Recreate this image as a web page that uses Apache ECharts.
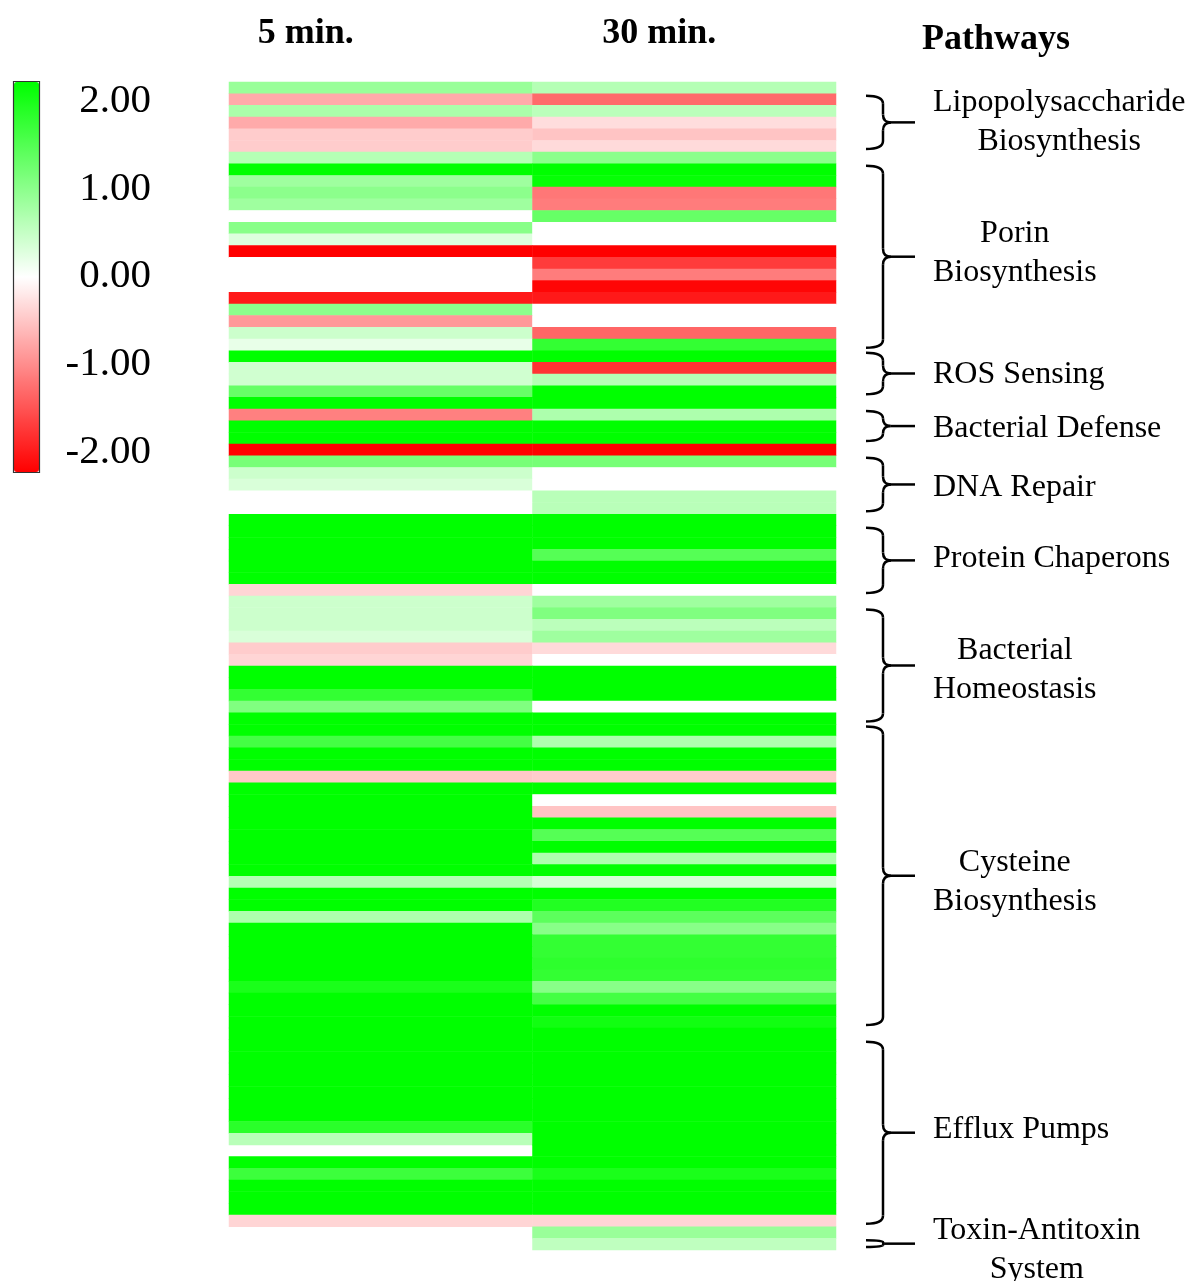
<!DOCTYPE html>
<html>
<head>
<meta charset="utf-8">
<script src="https://cdn.jsdelivr.net/npm/echarts@6/dist/echarts.min.js"></script>
<style>
  html, body { margin: 0; padding: 0; background: #fff; }
  #chart { width: 1194px; height: 1281px; }
</style>
</head>
<body>
<div id="chart"></div>
<script>
// Fold-change (log scale) per gene, top row first
const timePoints = ['5 min.', '30 min.'];

const min5 = [
  0.8, -0.67, 0.67, -0.67, -0.4, -0.4, 0.58, 2, 0.75, 0.9,
  0.75, 0, 0.93, 0.27, -2, 0, 0, 0, -1.8, 0.9,
  -0.8, 0.4, 0.18, 2, 0.37, 0.37, 1.2, 2, -1.0, 2,
  2, -2, 1.07, 0.4, 0.3, 0, 0, 2, 2, 2,
  2, 2, 2, -0.33, 0.4, 0.4, 0.4, 0.3, -0.4, -0.33,
  2, 2, 1.6, 1.0, 2, 2, 1.47, 2, 2, -0.43,
  2, 2, 2, 2, 2, 2, 2, 2, 0.58, 2,
  2, 0.64, 2, 2, 2, 2, 2, 1.8, 2, 2,
  2, 2, 2, 2, 2, 2, 2, 2, 2, 1.67,
  0.55, '-', 2, 1.53, 2, 2, 2, -0.33, '-', '-'
];

const min30 = [
  0.58, -1.16, 0.53, -0.27, -0.46, -0.29, 0.9, 2, 1.95, -1.07,
  -1.03, 1.2, 0, 0, -2, -1.54, -1.03, -1.95, -1.8, 0,
  0, -1.2, 1.6, 2, -1.6, 0.58, 2, 2, 0.64, 2,
  2, -2, 1.07, 0, 0, 0.55, 0.55, 2, 2, 2,
  1.33, 2, 2, 0, 0.75, 1.0, 0.53, 0.75, -0.29, 0,
  2, 2, 2, 0, 2, 2, 0.64, 2, 2, -0.4,
  2, 0, -0.46, 2, 1.33, 2, 0.64, 2, 0.33, 2,
  1.73, 1.28, 0.93, 1.6, 1.6, 1.65, 1.6, 0.93, 1.47, 2,
  1.87, 2, 2, 2, 2, 2, 2, 2, 2, 2,
  2, 2, 2, 1.8, 2, 2, 2, -0.33, 0.8, 0.5
];

const scaleTicks = [-2, -1, 0, 1, 2];

const pathwayNames = [
  'Lipopolysaccharide\nBiosynthesis',
  'Porin\nBiosynthesis',
  'ROS Sensing',
  'Bacterial Defense',
  'DNA Repair',
  'Protein Chaperons',
  'Bacterial\nHomeostasis',
  'Cysteine\nBiosynthesis',
  'Efflux Pumps',
  'Toxin-Antitoxin\nSystem'
];
const pathwayStart = [1, 7, 23, 28, 32, 38, 45, 55, 82, 99];
const pathwayEnd   = [5, 22, 26, 30, 36, 43, 54, 80, 97, 99];

const SERIF = '"Liberation Serif", "Times New Roman", serif';

const geneRows = min5.map((_, i) => 'gene' + (i + 1));
const cells = [];
geneRows.forEach((g, i) => {
  cells.push([0, i, min5[i]]);
  cells.push([1, i, min30[i]]);
});

const chart = echarts.init(document.getElementById('chart'), null, { renderer: 'canvas' });

// colour bar geometry
const BAR = { left: 14, top: 82, width: 25, height: 390 };

chart.setOption({
  animation: false,
  backgroundColor: '#ffffff',
  grid: [
    { left: 229, top: 82, width: 607, height: 1168 },
    { left: 155, top: 101, width: 1, height: 351 }
  ],
  xAxis: [
    {
      type: 'category', gridIndex: 0, data: timePoints, position: 'top',
      axisLine: { show: false }, axisTick: { show: false }, splitLine: { show: false },
      axisLabel: {
        interval: 0, margin: 30, color: '#000',
        formatter: (v, i) => (i === 0 ? '{a|' + v + '}' : '{b|' + v + '}'),
        rich: {
          a: { fontFamily: SERIF, fontWeight: 'bold', fontSize: 36, color: '#000', padding: [0, 150, 0, 0] },
          b: { fontFamily: SERIF, fontWeight: 'bold', fontSize: 36, color: '#000', padding: [0, 50, 0, 0] }
        }
      }
    },
    { type: 'value', gridIndex: 1, show: false }
  ],
  yAxis: [
    { type: 'category', gridIndex: 0, data: geneRows, inverse: true, show: false },
    {
      type: 'value', gridIndex: 1,
      min: scaleTicks[0], max: scaleTicks[scaleTicks.length - 1], interval: 1,
      axisLine: { show: false }, axisTick: { show: false }, splitLine: { show: false },
      axisLabel: {
        margin: 4, color: '#000', fontFamily: SERIF, fontSize: 41,
        formatter: v => Number(v).toFixed(2)
      }
    }
  ],
  visualMap: {
    type: 'continuous',
    seriesIndex: 0,
    min: -2, max: 2,
    left: BAR.left, top: BAR.top,
    itemWidth: BAR.width, itemHeight: BAR.height,
    calculable: false,
    hoverLink: false,
    padding: 0,
    inRange: { color: ['#ff0000', '#ffffff', '#00ff00'] }
  },
  series: [{
    type: 'heatmap',
    xAxisIndex: 0, yAxisIndex: 0,
    data: cells,
    itemStyle: { borderWidth: 0 },
    emphasis: { disabled: true },
    progressive: 0
  }]
});

// Pathway braces and labels placed from the row scale
const c0 = chart.convertToPixel({ yAxisIndex: 0 }, geneRows[0]);
const c1 = chart.convertToPixel({ yAxisIndex: 0 }, geneRows[1]);
const rowH = c1 - c0;
const rowTop = r => chart.convertToPixel({ yAxisIndex: 0 }, geneRows[r]) - rowH / 2;

const measure = document.createElement('canvas').getContext('2d');
measure.font = '32px ' + SERIF;

const xHook = 866, xSpine = 883, xTip = 915, textLeft = 933;
const braceStyle = { stroke: '#000', lineWidth: 2.5, fill: null };
// small vertical nudges of the label blocks relative to their brace tips
const labelNudge = [0, -4, 1, 3, 3, -2, 5, 6, -3, 6];

const graphics = [
  {
    type: 'rect',
    shape: { x: BAR.left - 0.5, y: BAR.top - 0.5, width: BAR.width + 1, height: BAR.height + 1 },
    style: { fill: null, stroke: '#333', lineWidth: 1.2 },
    z: 100
  },
  {
    type: 'text', x: 922, y: 40,
    style: {
      text: 'Pathways', fontFamily: SERIF, fontWeight: 'bold', fontSize: 36, fill: '#000',
      align: 'left', verticalAlign: 'middle'
    }
  }
];

pathwayNames.forEach((name, k) => {
  const top = rowTop(pathwayStart[k]) + 2;
  const bot = rowTop(pathwayEnd[k]) + rowH - 3;
  const mid = (top + bot) / 2;
  const r = Math.min(8, (bot - top) / 4);
  const parts = [
    { type: 'bezierCurve', shape: { x1: xHook, y1: top, cpx1: xSpine, cpy1: top, x2: xSpine, y2: top + r } },
    { type: 'line', shape: { x1: xSpine, y1: top + r, x2: xSpine, y2: mid - r } },
    { type: 'bezierCurve', shape: { x1: xSpine, y1: mid - r, cpx1: xSpine, cpy1: mid, x2: xSpine + r, y2: mid } },
    { type: 'bezierCurve', shape: { x1: xSpine + r, y1: mid, cpx1: xSpine, cpy1: mid, x2: xSpine, y2: mid + r } },
    { type: 'line', shape: { x1: xSpine, y1: mid + r, x2: xSpine, y2: bot - r } },
    { type: 'bezierCurve', shape: { x1: xSpine, y1: bot - r, cpx1: xSpine, cpy1: bot, x2: xHook, y2: bot } },
    { type: 'line', shape: { x1: xSpine + r, y1: mid, x2: xTip, y2: mid } }
  ];
  parts.forEach(p => { p.style = Object.assign({}, braceStyle); graphics.push(p); });

  const w = Math.max(...name.split('\n').map(s => measure.measureText(s).width));
  graphics.push({
    type: 'text', x: textLeft + w / 2, y: mid + labelNudge[k],
    style: {
      text: name, fontFamily: SERIF, fontSize: 32, fill: '#000',
      align: 'center', verticalAlign: 'middle', lineHeight: 39
    }
  });
});

chart.setOption({ graphic: graphics });
</script>
</body>
</html>
